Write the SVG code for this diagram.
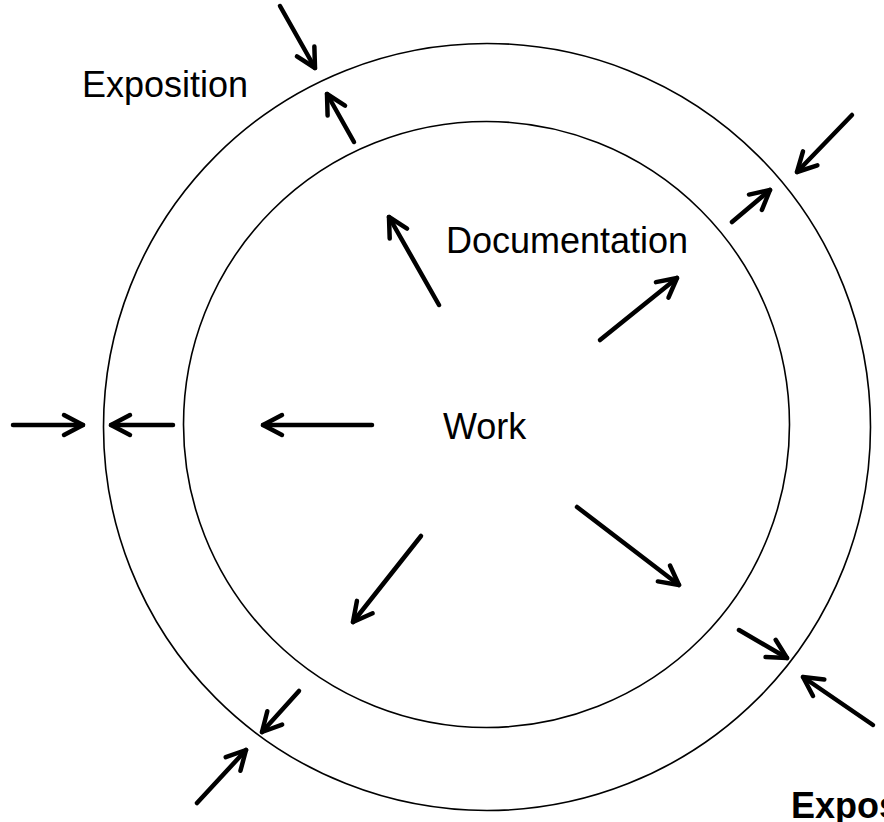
<svg xmlns="http://www.w3.org/2000/svg" width="884" height="822" viewBox="0 0 884 822">
  <style>
    .ring { fill: none; stroke: #000; stroke-width: 1.6; }
    .lbl { font-family: "Liberation Sans", Arial, sans-serif; font-size: 36px; fill: #000; }
    .bold { font-weight: bold; }
    .arr { fill: none; stroke: #000; stroke-width: 4.5; stroke-linecap: round; marker-end: url(#ah); }
  </style>
  <defs>
    <marker id="ah" markerUnits="userSpaceOnUse" viewBox="-26 -16 32 32" markerWidth="32" markerHeight="32" refX="0" refY="0" orient="auto" overflow="visible">
      <path d="M -19,-10 L 0,0 L -19,10" fill="none" stroke="#000" stroke-width="4.5" stroke-linecap="round" stroke-linejoin="round"/>
    </marker>
  </defs>
  <rect width="884" height="822" fill="#fff"/>
  <g id="exposition">
    <circle class="ring" cx="487" cy="427" r="383.5"/>
    <text class="lbl" x="82" y="97">Exposition</text>
  </g>
  <g id="documentation">
    <circle class="ring" cx="486.5" cy="424.5" r="303"/>
    <text class="lbl" x="446" y="253">Documentation</text>
  </g>
  <g id="work">
    <text class="lbl" x="443" y="439">Work</text>
  </g>
  <g id="exposition-bold">
    <text class="lbl bold" x="791" y="818">Expos</text>
  </g>
  <g id="connectors">
    <path class="arr" d="M280,6 L315,68"/>
    <path class="arr" d="M354,142 L327,94"/>
    <path class="arr" d="M852,115 L797,172"/>
    <path class="arr" d="M732,222 L770,190"/>
    <path class="arr" d="M13,425 L83,425"/>
    <path class="arr" d="M173,425 L111,425"/>
    <path class="arr" d="M372,425 L263,425"/>
    <path class="arr" d="M873,725 L803,677"/>
    <path class="arr" d="M739,630 L787,658"/>
    <path class="arr" d="M299,691 L262,732"/>
    <path class="arr" d="M197,803 L246,750"/>
    <path class="arr" d="M439,305 L389,217"/>
    <path class="arr" d="M600,340 L677,278"/>
    <path class="arr" d="M421,536 L353,622"/>
    <path class="arr" d="M577,507 L679,585"/>
  </g>
</svg>
